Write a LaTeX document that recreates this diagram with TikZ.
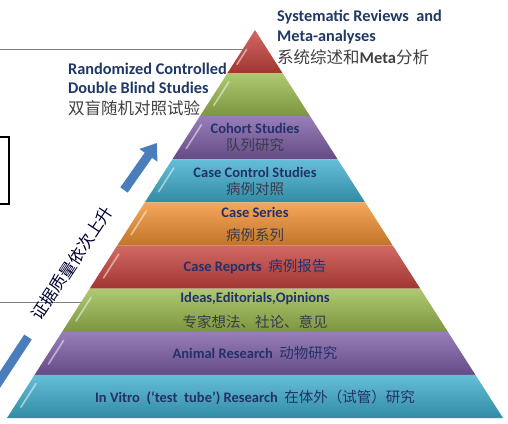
\documentclass[tikz,border=0pt]{standalone}
\usepackage{fontspec}
\setmainfont{Carlito}
\newfontfamily\cjk{Noto Sans CJK SC}
\usetikzlibrary{calc,arrows.meta}

\definecolor{pyrred}{HTML}{C8433D}
\definecolor{pyrgreen}{HTML}{9BBB4F}
\definecolor{pyrpurple}{HTML}{7D5EA6}
\definecolor{pyraqua}{HTML}{3FAECD}
\definecolor{pyrorange}{HTML}{F29133}
\definecolor{entext}{HTML}{24306A}
\definecolor{zhtext}{HTML}{3A3A4C}
\definecolor{topnavy}{HTML}{1F3864}
\definecolor{arrowblue}{HTML}{4A7EBB}

\newcommand{\zhtxt}[1]{{\cjk\mdseries\fontsize{14.5}{17}\selectfont #1}}

\begin{document}
\begin{tikzpicture}[x=1pt,y=-1pt,
    redband/.style={top color=pyrred!80!white, middle color=pyrred, bottom color=pyrred!80!black},
    greenband/.style={top color=pyrgreen!80!white, middle color=pyrgreen, bottom color=pyrgreen!80!black},
    purpleband/.style={top color=pyrpurple!80!white, middle color=pyrpurple, bottom color=pyrpurple!80!black},
    aquaband/.style={top color=pyraqua!80!white, middle color=pyraqua, bottom color=pyraqua!80!black},
    orangeband/.style={top color=pyrorange!80!white, middle color=pyrorange, bottom color=pyrorange!80!black},
    hilite/.style={draw=white, opacity=0.5, line width=1.6pt, line cap=round},
    en/.style={font=\bfseries\fontsize{14.5}{17}\selectfont, text=entext},
    zh/.style={font=\cjk\fontsize{14.5}{17}\selectfont, text=zhtext},
    toplab/.style={anchor=west, inner sep=0pt, font=\bfseries\fontsize{16.3}{19}\selectfont, text=topnavy},
    topzh/.style={anchor=west, inner sep=0pt, font=\cjk\fontsize{16.5}{19}\selectfont, text=black!75},
    shaft/.style={draw=arrowblue, line width=9pt}
  ]
    \useasboundingbox (0,0) rectangle (508,423);

    % lines and box behind
    \draw[gray, line width=0.8pt] (0,49) -- (250,49);
    \draw[gray, line width=0.8pt] (0,302) -- (95,302);
    \draw[line width=1.3pt] (-5,137) rectangle (9,204);

    % pyramid
    \coordinate (top) at (255,30);
    \coordinate (bl) at (7,418);
    \coordinate (br) at (503,418);
    \shade[redband] (top) -- ($(top)!1/9!(br)$) -- ($(top)!1/9!(bl)$) -- cycle;
    \shade[greenband] ($(top)!1/9!(bl)$) -- ($(top)!1/9!(br)$) -- ($(top)!2/9!(br)$) -- ($(top)!2/9!(bl)$) -- cycle;
    \shade[purpleband] ($(top)!2/9!(bl)$) -- ($(top)!2/9!(br)$) -- ($(top)!3/9!(br)$) -- ($(top)!3/9!(bl)$) -- cycle;
    \shade[aquaband] ($(top)!3/9!(bl)$) -- ($(top)!3/9!(br)$) -- ($(top)!4/9!(br)$) -- ($(top)!4/9!(bl)$) -- cycle;
    \shade[orangeband] ($(top)!4/9!(bl)$) -- ($(top)!4/9!(br)$) -- ($(top)!5/9!(br)$) -- ($(top)!5/9!(bl)$) -- cycle;
    \shade[redband] ($(top)!5/9!(bl)$) -- ($(top)!5/9!(br)$) -- ($(top)!6/9!(br)$) -- ($(top)!6/9!(bl)$) -- cycle;
    \shade[greenband] ($(top)!6/9!(bl)$) -- ($(top)!6/9!(br)$) -- ($(top)!7/9!(br)$) -- ($(top)!7/9!(bl)$) -- cycle;
    \shade[purpleband] ($(top)!7/9!(bl)$) -- ($(top)!7/9!(br)$) -- ($(top)!8/9!(br)$) -- ($(top)!8/9!(bl)$) -- cycle;
    \shade[aquaband] ($(top)!8/9!(bl)$) -- ($(top)!8/9!(br)$) -- (br) -- (bl) -- cycle;

    % bevel highlights on the left side
    \draw[hilite] ($(top)!0.45/9!(bl)+(4,0)$) -- ($(top)!0.8/9!(bl)+(4,0)$);
    \draw[hilite] ($(top)!1.2/9!(bl)+(7,0)$) -- ($(top)!1.75/9!(bl)+(7,0)$);
    \draw[hilite] ($(top)!2.2/9!(bl)+(7,0)$) -- ($(top)!2.75/9!(bl)+(7,0)$);
    \draw[hilite] ($(top)!3.2/9!(bl)+(7,0)$) -- ($(top)!3.75/9!(bl)+(7,0)$);
    \draw[hilite] ($(top)!4.2/9!(bl)+(7,0)$) -- ($(top)!4.75/9!(bl)+(7,0)$);
    \draw[hilite] ($(top)!5.2/9!(bl)+(7,0)$) -- ($(top)!5.75/9!(bl)+(7,0)$);
    \draw[hilite] ($(top)!6.2/9!(bl)+(7,0)$) -- ($(top)!6.75/9!(bl)+(7,0)$);
    \draw[hilite] ($(top)!7.2/9!(bl)+(7,0)$) -- ($(top)!7.75/9!(bl)+(7,0)$);
    \draw[hilite] ($(top)!8.2/9!(bl)+(7,0)$) -- ($(top)!8.75/9!(bl)+(7,0)$);

    % labels outside
    \node[toplab] (sysA) at (277,17) {Systematic Reviews\ \ and};
    \node[toplab] (sysB) at (277,37) {Meta-analyses};
    \node[topzh] (sysC) at (277,57) {系统综述和{\rmfamily\bfseries Meta}分析};
    \node[toplab] (rctA) at (68,69) {Randomized Controlled};
    \node[toplab] (rctB) at (68,88) {Double Blind Studies};
    \node[topzh] (rctC) at (68,108) {双盲随机对照试验};

    % labels in the bands
    \node[en] (cohA) at (255,128) {Cohort Studies};
    \node[zh] (cohB) at (255,145) {队列研究};
    \node[en] (ccA) at (255,172) {Case Control Studies};
    \node[zh] (ccB) at (255,189) {病例对照};
    \node[en] (serA) at (255,212) {Case Series};
    \node[zh] (serB) at (255,235) {病例系列};
    \node[en] (rep) at (255,267) {Case Reports\ \ \zhtxt{病例报告}};
    \node[en] (ideaA) at (255,299) {Ideas,Editorials,Opinions};
    \node[zh] (ideaB) at (255,322) {专家想法、社论、意见};
    \node[en] (animal) at (255,353) {Animal Research\ \ \zhtxt{动物研究}};
    \node[en] (vitro) at (255,397) {In Vitro\ \ (‘test\ \ tube’) Research\ \ \zhtxt{在体外（试管）研究}};

    % evidence arrow
    \coordinate (qlowA) at (-16,404);
    \coordinate (qlowB) at (28,337);
    \coordinate (qupA) at (124,190);
    \coordinate (qupB) at (157,143);
    \draw[shaft] (qlowA) -- (qlowB);
    \draw[shaft, -{Triangle[width=21pt,length=15pt]}] (qupA) -- (qupB);
    \node[rotate=56.4, font=\cjk\fontsize{16.5}{19}\selectfont, text=black!80!blue] (quality) at (72,263) {证据质量依次上升};
\end{tikzpicture}
\end{document}
